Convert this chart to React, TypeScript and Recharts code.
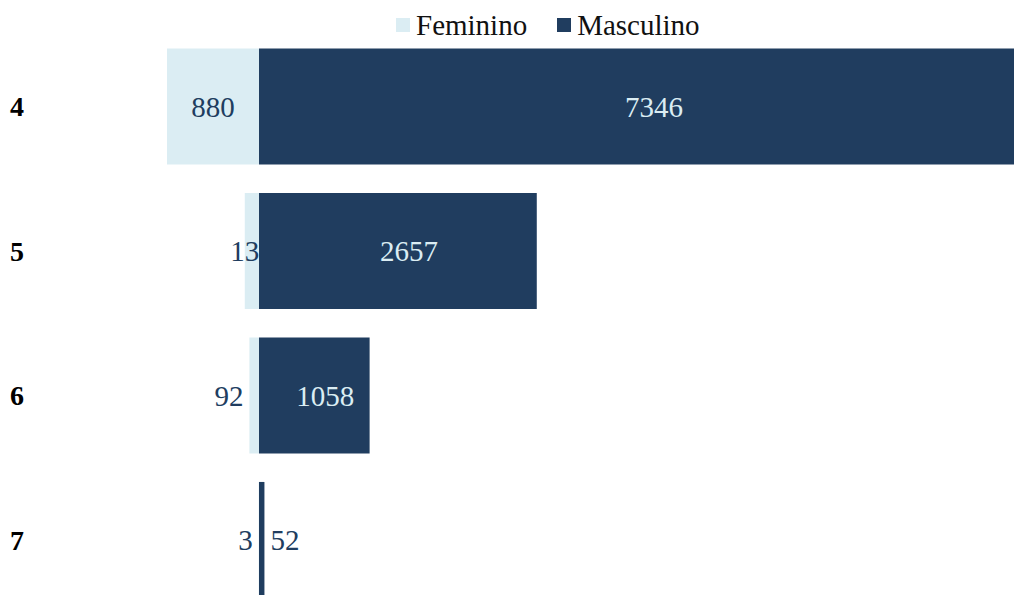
import { Bar, BarChart, LabelList, XAxis, YAxis } from "recharts";

const SERIF = '"Liberation Serif", "Times New Roman", serif';
const FEM_COLOR = "#dbedf3"; // Feminino = light blue
const MASC_COLOR = "#203d5f"; // Masculino = dark navy
const FONT = 29;

const CATEGORIES = ["4", "5", "6", "7"];
const FEMININO = [880, 136, 92, 3];
const MASCULINO = [7346, 2657, 1058, 52];

// feminino goes left of zero, so store it negative
const data = CATEGORIES.map((grade, i) => ({
  grade,
  feminino: -FEMININO[i],
  masculino: MASCULINO[i],
}));

const X_DOMAIN = [-Math.max(...FEMININO), Math.max(...MASCULINO)];

function box(props: any) {
  const vb = props.viewBox ?? props;
  const x = Number(vb.x);
  const w = Number(vb.width);
  const left = Math.min(x, x + w);
  return { left, w: Math.abs(w), y: Number(vb.y), h: Number(vb.height) };
}

function GradeTick(props: any) {
  const { y, payload } = props;
  return (
    <text
      x={10}
      y={y}
      dy="0.35em"
      textAnchor="start"
      fontFamily={SERIF}
      fontWeight="bold"
      fontSize={28}
      fill="#000"
    >
      {payload.value}
    </text>
  );
}

function FemLabel(props: any) {
  const { left, w, y, h } = box(props);
  const value = Math.abs(Number(props.value));
  const id = `fem-clip-${props.index}`;
  const inside = w > 12;
  // inside labels are clipped at zero (the masculino bar hides the rest)
  return (
    <g>
      <defs>
        <clipPath id={id}>
          <rect x={left - 300} y={y} width={300 + w} height={h} />
        </clipPath>
      </defs>
      <text
        x={inside ? left + w / 2 : left - 6}
        y={y + h / 2}
        dy="0.35em"
        textAnchor={inside ? "middle" : "end"}
        fontFamily={SERIF}
        fontSize={FONT}
        fill={MASC_COLOR}
        clipPath={`url(#${id})`}
      >
        {value}
      </text>
    </g>
  );
}

function MascLabel(props: any) {
  const { left, w, y, h } = box(props);
  const text = String(props.value);
  const inside = w > text.length * 14 + 12;
  return (
    <text
      x={inside ? left + w / 2 + 11 : left + w + 6}
      y={y + h / 2}
      dy="0.35em"
      textAnchor={inside ? "middle" : "start"}
      fontFamily={SERIF}
      fontSize={FONT}
      fill={inside ? FEM_COLOR : MASC_COLOR}
    >
      {text}
    </text>
  );
}

function LegendBox() {
  const item = (color: string, label: string) => (
    <div style={{ display: "flex", alignItems: "center", gap: 6 }}>
      <span style={{ display: "inline-block", width: 14, height: 14, background: color }} />
      <span>{label}</span>
    </div>
  );
  return (
    <div
      style={{
        position: "absolute",
        top: 11,
        left: 396,
        zIndex: 1,
        display: "flex",
        gap: 30,
        height: 28,
        lineHeight: "28px",
        fontSize: FONT,
        fontFamily: SERIF,
        color: "#111",
      }}
    >
      {item(FEM_COLOR, "Feminino")}
      {item(MASC_COLOR, "Masculino")}
    </div>
  );
}

export default function App() {
  // the chart runs past the right and bottom edges, as in the source picture
  return (
    <div style={{ position: "relative", width: 1014, height: 595, overflow: "hidden" }}>
      <style>{"body { margin: 0; }"}</style>
      <LegendBox />
      <BarChart
        width={1027}
        height={612}
        data={data}
        layout="vertical"
        stackOffset="sign"
        barCategoryGap="10%"
        margin={{ top: 34, right: 0, bottom: 0, left: 0 }}
      >
        <XAxis type="number" hide domain={X_DOMAIN} />
        <YAxis
          type="category"
          dataKey="grade"
          width={167}
          axisLine={false}
          tickLine={false}
          tick={<GradeTick />}
        />
        <Bar dataKey="feminino" stackId="g" fill={FEM_COLOR} isAnimationActive={false}>
          <LabelList dataKey="feminino" content={FemLabel} />
        </Bar>
        <Bar dataKey="masculino" stackId="g" fill={MASC_COLOR} isAnimationActive={false}>
          <LabelList dataKey="masculino" content={MascLabel} />
        </Bar>
      </BarChart>
    </div>
  );
}
